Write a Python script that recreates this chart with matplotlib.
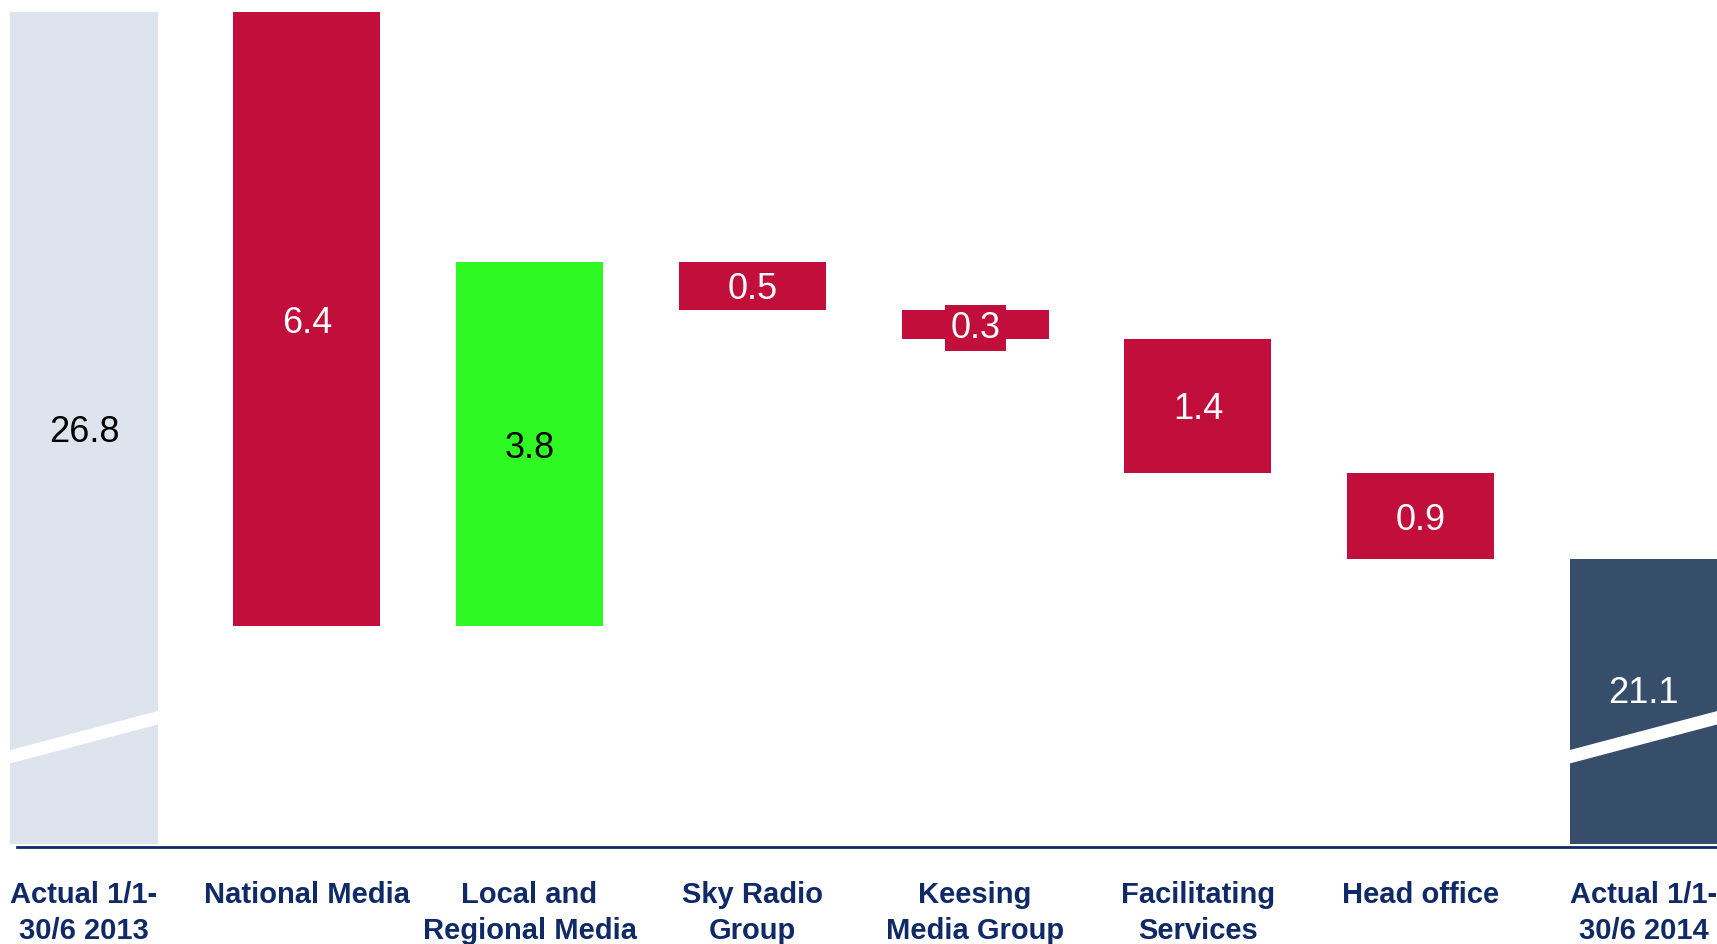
import matplotlib.pyplot as plt
from matplotlib.patches import Polygon

plt.rcParams['font.family'] = ['Liberation Sans', 'DejaVu Sans']

# Data
categories = ["Actual 1/1-\n30/6 2013", "National Media", "Local and\nRegional Media",
              "Sky Radio\nGroup", "Keesing\nMedia Group", "Facilitating\nServices",
              "Head office", "Actual 1/1-\n30/6 2014"]
start_value = 26.8
changes = [-6.4, 3.8, -0.5, -0.3, -1.4, -0.9]
end_value = 21.1

grey = "#dde4ee"
red = "#c20e3a"
green = "#2ef923"
navy_bar = "#374e6b"
navy = "#0f2a66"

# visible base of the broken axis
base = 18.137

fig = plt.figure(figsize=(17.17, 9.44), dpi=100)
ax = fig.add_axes([0, 0.0996, 1, 0.9004])
ax.set_xlim(-0.377, 7.33)
ax.set_ylim(18.07, 26.93)
w = 0.66
fs = 26

# Start total
ax.bar(0, start_value - base, bottom=base, width=w, color=grey)
ax.text(0, (start_value + base) / 2, f"{start_value:.1f}", ha="center",
        va="center_baseline", fontsize=fs, color="black")

# Changes
level = start_value
for i, c in enumerate(changes, start=1):
    lo = min(level, level + c)
    col = green if c > 0 else red
    ax.bar(i, abs(c), bottom=lo, width=w, color=col)
    txt_col = "black" if c > 0 else "white"
    kw = {}
    if abs(c) < 0.4:
        kw["bbox"] = dict(facecolor=red, edgecolor="none", pad=4)
    ax.text(i, lo + abs(c) / 2, f"{abs(c):.1f}", ha="center", va="center_baseline",
            fontsize=fs, color=txt_col, **kw)
    level += c

# End total
n = len(categories) - 1
ax.bar(n, end_value - base, bottom=base, width=w, color=navy_bar)
ax.text(n, (end_value + base) / 2 + 0.12, f"{end_value:.1f}", ha="center",
        va="center_baseline", fontsize=fs, color="white")

# Axis break marks on the total bars
for x in (0, n):
    x0, x1 = x - w / 2 - 0.02, x + w / 2 + 0.02
    band = Polygon([(x0, 18.96), (x1, 19.39), (x1, 19.53), (x0, 19.10)],
                   closed=True, facecolor="white", edgecolor="none", zorder=3)
    ax.add_patch(band)

# Baseline
ax.plot([-0.30, 7.4], [18.096, 18.096], color=navy, lw=2, clip_on=False)

ax.set_xticks(range(len(categories)))
ax.set_xticklabels(categories, fontsize=21, fontweight="bold", color=navy,
                   linespacing=1.38)
ax.tick_params(axis="x", length=0, pad=22)
ax.set_yticks([])
for s in ax.spines.values():
    s.set_visible(False)

fig.savefig("out.png", dpi=100)
